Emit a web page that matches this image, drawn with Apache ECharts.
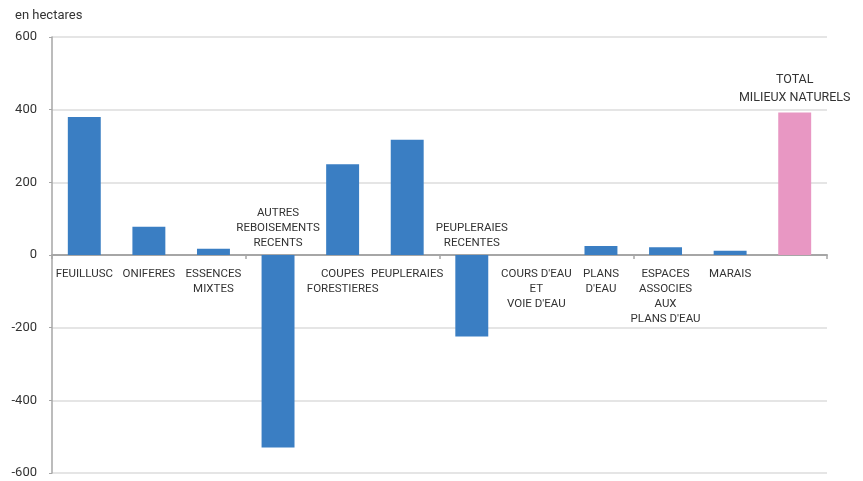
<!DOCTYPE html>
<html>
<head>
<meta charset="utf-8">
<script src="https://cdn.jsdelivr.net/npm/echarts@6/dist/echarts.min.js"></script>
<style>html,body{margin:0;padding:0;background:#fff}#c{width:863px;height:481px}</style>
</head>
<body>
<div id="c"></div>
<script>
var categories = ['FEUILLUSC','ONIFERES','ESSENCES\nMIXTES','AUTRES\nREBOISEMENTS\nRECENTS','COUPES\nFORESTIERES','PEUPLERAIES','PEUPLERAIES\nRECENTES',"COURS D'EAU\nET\nVOIE D'EAU","PLANS\nD'EAU","ESPACES\nASSOCIES\nAUX\nPLANS D'EAU",'MARAIS','TOTAL\nMILIEUX NATURELS'];
var values = [380, 78, 17, -530, 250, 317, -224, 0, 25, 21, 12, 392];
var totalIndex = 11;
var yTicks = [-600, -400, -200, 0, 200, 400, 600];

var BLUE = '#3a7ec3', PINK = '#e897c3';
var data = values.map(function (v, i) {
  var isTotal = i === totalIndex;
  var item = { value: v, itemStyle: { color: isTotal ? PINK : BLUE } };
  if (isTotal) {
    item.label = { position: 'top', distance: 6, fontSize: 12.5, lineHeight: 18 };
  } else if (v < 0) {
    item.label = { position: 'top', distance: 4 };
  } else {
    item.label = { position: 'bottom', distance: 12 };
  }
  return item;
});

var chart = echarts.init(document.getElementById('c'), null, { renderer: 'canvas' });
chart.setOption({
  animation: false,
  backgroundColor: '#fff',
  textStyle: { fontFamily: 'Roboto' },
  title: {
    text: 'en hectares', left: 10, top: 4,
    textStyle: { fontSize: 13, fontWeight: 'normal', color: '#333', fontFamily: 'Roboto' }
  },
  grid: { left: 52, right: 36, top: 37, bottom: 8, containLabel: false },
  xAxis: {
    type: 'category',
    data: categories,
    axisLine: { lineStyle: { color: '#a6a6a6', width: 2 } },
    axisTick: { show: true, length: 4, lineStyle: { color: '#a6a6a6', width: 1.5 } },
    axisLabel: { show: false },
    splitLine: { show: false }
  },
  yAxis: {
    type: 'value',
    min: yTicks[0], max: yTicks[yTicks.length - 1], interval: 200,
    axisLine: { show: true, lineStyle: { color: '#a6a6a6', width: 1.5 } },
    axisTick: { show: true, length: 3, lineStyle: { color: '#a6a6a6' } },
    axisLabel: { color: '#333', fontSize: 13, margin: 15, fontFamily: 'Roboto' },
    splitLine: { show: true, lineStyle: { color: '#dcdcdc', width: 1.5 } }
  },
  series: [{
    type: 'bar',
    data: data,
    barWidth: '51%',
    label: {
      show: true,
      formatter: function (p) { return categories[p.dataIndex]; },
      color: '#333',
      fontSize: 11.5,
      lineHeight: 15,
      align: 'center',
      fontFamily: 'Roboto'
    }
  }]
});
</script>
</body>
</html>
